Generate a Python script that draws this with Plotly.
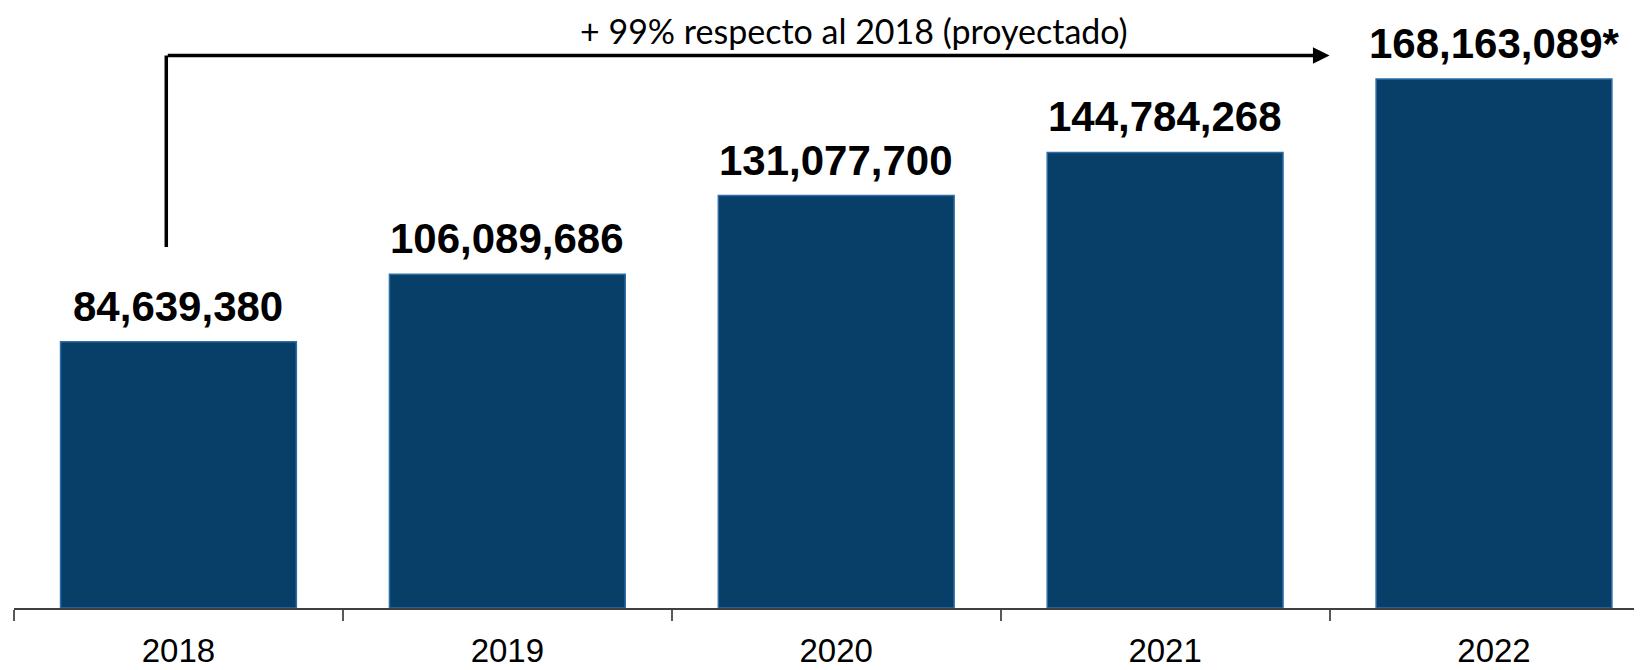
import plotly.graph_objects as go

years = ['2018', '2019', '2020', '2021', '2022']
values = [84639380, 106089686, 131077700, 144784268, 168163089]
labels = ['84,639,380', '106,089,686', '131,077,700', '144,784,268', '168,163,089*']
growth_text = '+ 99% respecto al 2018 (proyectado)'

NAVY = '#073F69'
SANS = 'Liberation Sans Narrow, Liberation Sans, Arial, sans-serif'

fig = go.Figure(go.Bar(
    x=years,
    y=values,
    marker=dict(color=NAVY, line=dict(color='#2F6DA6', width=1.5)),
    hoverinfo='skip',
))

# value labels above each bar (x as category index, numeric-looking names confuse the axis)
for i, (v, lab) in enumerate(zip(values, labels)):
    fig.add_annotation(
        x=i, y=v, text='<b>' + lab + '</b>', showarrow=False,
        yanchor='bottom', yshift=10,
        font=dict(family=SANS, size=42, color='black'),
    )

# bracket arrow from 2018 up and across to the 2022 column
arrow_x0 = -0.037
arrow_y = 175.6e6
fig.add_shape(type='line', x0=arrow_x0, x1=arrow_x0, y0=114.7e6, y1=arrow_y,
              line=dict(color='black', width=3.5))
fig.add_annotation(
    x=3.5, y=arrow_y, ax=arrow_x0, ay=arrow_y,
    xref='x', yref='y', axref='x', ayref='y',
    text='', showarrow=True, arrowhead=2, arrowsize=0.95,
    arrowwidth=3.5, arrowcolor='black',
)
fig.add_annotation(
    x=2.054, y=arrow_y, text=growth_text, showarrow=False,
    yanchor='bottom', yshift=3,
    font=dict(family='Lato, Carlito, sans-serif', size=34, color='black'),
)

fig.update_layout(
    width=1634, height=662,
    margin=dict(l=6, r=0, t=0, b=62),
    plot_bgcolor='white', paper_bgcolor='white',
    bargap=0.283,
    showlegend=False,
    xaxis=dict(
        type='category', range=[-0.5, 4.45],
        showline=True, linecolor='#404040', linewidth=2,
        ticks='outside', tickson='boundaries', ticklen=11,
        tickcolor='#595959', tickwidth=2,
        ticklabelstandoff=12, automargin=False,
        showgrid=False, zeroline=False,
        tickfont=dict(family=SANS, size=33, color='black'),
    ),
    yaxis=dict(range=[0, 190.7e6], visible=False, showgrid=False, zeroline=False),
)

fig.write_html('out.html')
